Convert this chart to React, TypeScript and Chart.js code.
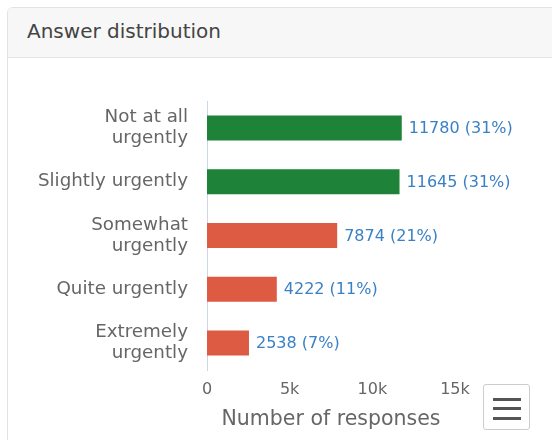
import React, { useEffect, useRef } from "react";
import { Chart, registerables } from "chart.js";

Chart.register(...registerables);

const categories: (string | string[])[] = [
  ["Not at all", "urgently"],
  "Slightly urgently",
  ["Somewhat", "urgently"],
  "Quite urgently",
  ["Extremely", "urgently"],
];
const responses = [11780, 11645, 7874, 4222, 2538];
const barColors = ["#1e8238", "#1e8238", "#dd5a43", "#dd5a43", "#dd5a43"];
const xTicks = [0, 5000, 10000, 15000];
const xTickLabels = ["0", "5k", "10k", "15k"];

const FONT = "'DejaVu Sans', sans-serif";

const valueLabels = {
  id: "valueLabels",
  afterDatasetsDraw(chart: any) {
    const ctx = chart.ctx;
    const meta = chart.getDatasetMeta(0);
    const data = chart.data.datasets[0].data as number[];
    const total = data.reduce((a, b) => a + b, 0);
    ctx.save();
    ctx.font = `16px ${FONT}`;
    ctx.fillStyle = "#3a80c6";
    ctx.textAlign = "left";
    ctx.textBaseline = "middle";
    meta.data.forEach((bar: any, i: number) => {
      const v = data[i];
      const pct = Math.round((v / total) * 100);
      ctx.fillText(`${v} (${pct}%)`, bar.x + 7, bar.y + 1);
    });
    ctx.restore();
  },
};

export default function App() {
  const ref = useRef<HTMLCanvasElement>(null);
  useEffect(() => {
    if (!ref.current) return;
    const chart = new Chart(ref.current, {
      type: "bar",
      data: {
        labels: categories,
        datasets: [
          {
            data: responses,
            backgroundColor: barColors,
            barPercentage: 0.93,
            categoryPercentage: 0.5,
          },
        ],
      },
      options: {
        indexAxis: "y",
        animation: false,
        responsive: false,
        layout: { padding: { left: 0, right: 85, top: 41, bottom: 0 } },
        plugins: { legend: { display: false }, tooltip: { enabled: false } },
        scales: {
          x: {
            min: 0,
            max: 15000,
            grid: { display: false, drawTicks: false },
            border: { display: false },
            afterBuildTicks: (scale: any) => {
              scale.ticks = xTicks.map((v) => ({ value: v }));
            },
            afterFit: (scale: any) => {
              scale.height = 70;
            },
            ticks: {
              padding: 10,
              color: "#666666",
              font: { family: FONT, size: 16 },
              callback: (v: any) => xTickLabels[xTicks.indexOf(Number(v))] ?? "",
            },
            title: {
              display: true,
              text: "Number of responses",
              color: "#666666",
              font: { family: FONT, size: 20.5 },
              padding: { top: 0, bottom: 8 },
            },
          },
          y: {
            grid: { display: false, drawTicks: false },
            border: { display: true, color: "#ccd6eb", width: 1 },
            afterFit: (scale: any) => {
              scale.width = 187;
            },
            ticks: {
              padding: 19,
              color: "#666666",
              font: { family: FONT, size: 18.3, lineHeight: 1.15 },
            },
          },
        },
      },
      plugins: [valueLabels],
    });
    return () => chart.destroy();
  }, []);

  return (
    <div
      style={{
        position: "fixed",
        left: 0,
        top: 0,
        width: 552,
        height: 440,
        overflow: "hidden",
        background: "#ffffff",
        fontFamily: FONT,
      }}
    >
      <div
        style={{
          position: "absolute",
          left: 7,
          top: 7,
          width: 600,
          height: 500,
          border: "1px solid #e3e3e3",
          borderRadius: 6,
          background: "#ffffff",
          overflow: "hidden",
        }}
      >
        <div
          style={{
            height: 49,
            background: "#f7f7f7",
            borderBottom: "1px solid #e6e6e6",
            boxSizing: "content-box",
          }}
        >
          <div
            style={{
              position: "absolute",
              left: 19,
              top: 10,
              fontSize: 20,
              color: "#444444",
              lineHeight: "26px",
            }}
          >
            Answer distribution
          </div>
        </div>
      </div>
      <canvas
        ref={ref}
        width={520}
        height={380}
        style={{ position: "absolute", left: 20, top: 60, width: 520, height: 380 }}
      />
      <div
        style={{
          position: "absolute",
          left: 483,
          top: 384,
          width: 45,
          height: 44,
          border: "1px solid #cccccc",
          borderRadius: 3,
          background: "#ffffff",
        }}
      >
        {[13, 22, 32].map((t) => (
          <div
            key={t}
            style={{
              position: "absolute",
              left: 9,
              top: t,
              width: 28,
              height: 3,
              background: "#555555",
            }}
          />
        ))}
      </div>
    </div>
  );
}
